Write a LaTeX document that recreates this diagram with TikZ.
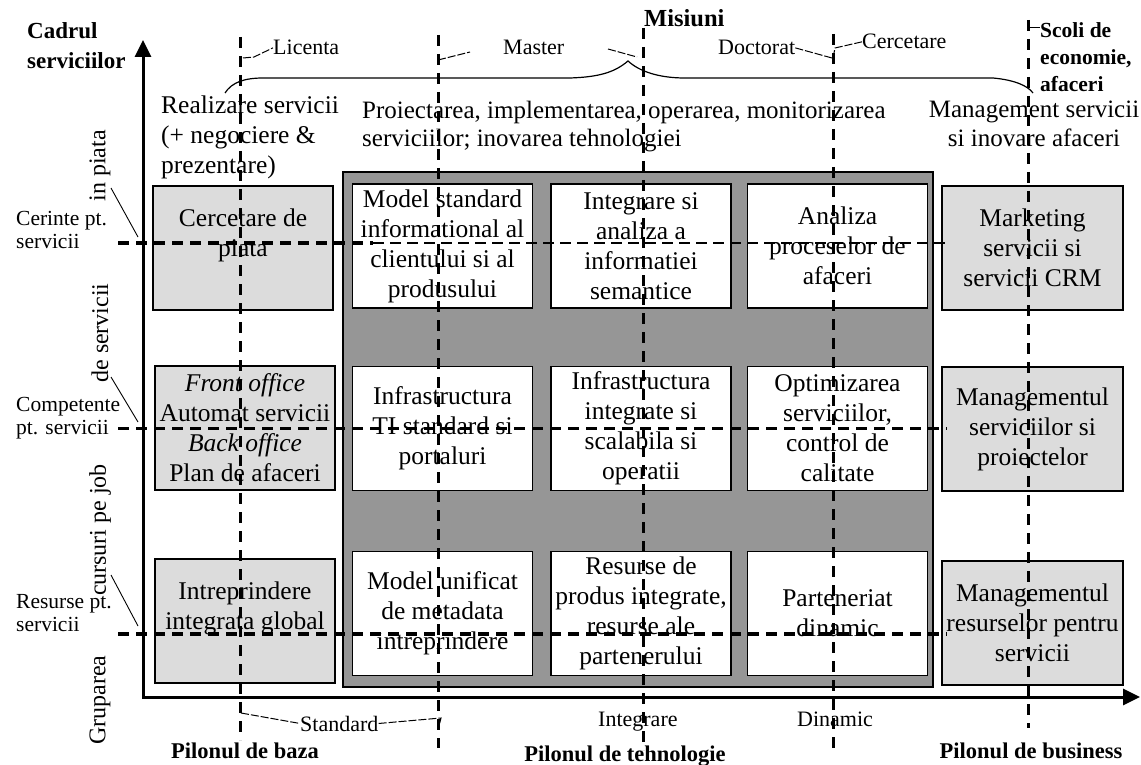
\documentclass[tikz,border=0pt]{standalone}
\usepackage{fontspec}
\setmainfont{Liberation Serif}
\usetikzlibrary{arrows.meta}
\definecolor{lgray}{HTML}{DCDCDC}
\definecolor{dgray}{HTML}{969696}
\tikzset{
  cell/.style={draw, line width=1.3pt, inner sep=0pt, minimum width=180pt, minimum height=124pt,
    font=\fontsize{25.5}{30}\selectfont, align=center},
  wcell/.style={cell, fill=white},
  gcell/.style={cell, fill=lgray},
  toptext/.style={font=\fontsize{25.5}{30}\selectfont, inner sep=0pt},
  lab/.style={font=\fontsize{22}{24}\selectfont, inner sep=0pt},
  sidelab/.style={font=\fontsize{21.5}{23}\selectfont, inner sep=0pt, align=left, anchor=north west},
  pillar/.style={font=\fontsize{22.5}{24}\bfseries\selectfont, inner sep=0pt},
  rot/.style={font=\fontsize{24}{26}\selectfont, inner sep=0pt, rotate=90},
  conn/.style={line width=1pt, dash pattern=on 8pt off 2pt},
  tick/.style={line width=0.9pt},
  axisline/.style={line width=3pt, line join=miter},
  vdash/.style={line width=3pt, dash pattern=on 11pt off 8pt},
  hthick/.style={line width=3.5pt, dash pattern=on 11pt off 7pt},
  hthin/.style={line width=1.5pt, dash pattern=on 11pt off 6pt},
}
\begin{document}
\begin{tikzpicture}[x=1pt,y=-1pt]
\useasboundingbox (0,0) rectangle (1141,765);

% big grey panel
\node[draw, line width=1.3pt, fill=dgray, minimum width=590pt, minimum height=515pt, inner sep=0pt] (panel) at (638,429.5) {};

% white cells
\node[wcell] (m11) at (442.5,246) {Model standard\\informational al\\clientului si al\\produsului};
\node[wcell] (m12) at (641,246) {Integrare si\\analiza a\\informatiei\\semantice};
\node[wcell] (m13) at (837.5,246) {Analiza\\proceselor de\\afaceri};
\node[wcell] (m21) at (442.5,428.5) {Infrastructura\\TI standard si\\portaluri};
\node[wcell] (m22) at (641,428.5) {Infrastructura\\integrate si\\scalabila si\\operatii};
\node[wcell] (m23) at (837.5,428.5) {Optimizarea\\serviciilor,\\control de\\calitate};
\node[wcell] (m31) at (442.5,613.5) {Model unificat\\de metadata\\intreprindere};
\node[wcell] (m32) at (641,613.5) {Resurse de\\produs integrate,\\resurse ale\\partenerului};
\node[wcell] (m33) at (837.5,613.5) {Parteneriat\\dinamic};

% left grey cells
\node[gcell] (l1) at (243,248) {Cercetare de\\piata\\\mbox{}};
\node[gcell] (l2) at (245,428) {\textit{Front office}\\Automat servicii\\\textit{Back office}\\Plan de afaceri};
\node[gcell] (l3) at (245,621) {Intreprindere\\integrata global\\\mbox{}};

% right grey cells
\node[gcell, minimum width=181pt] (r1) at (1032.5,248) {Marketing\\servicii si\\servicii CRM};
\node[gcell, minimum width=181pt] (r2) at (1032.5,429) {Managementul\\serviciilor si\\proiectelor};
\node[gcell, minimum width=181pt] (r3) at (1032.5,623) {Managementul\\resurselor pentru\\servicii};

% top texts
\node[toptext, align=left, anchor=north west] (real) at (161,96) {Realizare servicii\\(+ negociere \&\\prezentare)};
\node[toptext, align=left, anchor=north west, font=\fontsize{25}{28}\selectfont] (proi) at (362,101) {Proiectarea, implementarea, operarea, monitorizarea\\serviciilor; inovarea tehnologiei};
\node[toptext, align=center, anchor=north, font=\fontsize{25}{29}\selectfont] (mgmt) at (1034,101) {Management servicii\\si inovare afaceri};

% titles
\node[font=\fontsize{23}{30}\bfseries\selectfont, inner sep=0pt, align=left, anchor=north west] (cadrul) at (27,22) {Cadrul\\serviciilor};
\node[font=\fontsize{24.5}{26}\bfseries\selectfont, inner sep=0pt, anchor=base west] (misiuni) at (644,27) {Misiuni};
\node[font=\fontsize{21.5}{27}\bfseries\selectfont, inner sep=0pt, align=left, anchor=north west] (scoli) at (1040,22) {Scoli de\\economie,\\afaceri};

% small top labels
\node[lab, anchor=base west] (lic) at (273,55) {Licenta};
\node[lab, anchor=base west] (mst) at (503,55) {Master};
\node[lab, anchor=base west] (doc) at (718,55) {Doctorat};
\node[lab, anchor=base west] (cerc) at (862,49) {Cercetare};

% bottom labels
\node[lab, anchor=base west] (std) at (300,731) {Standard};
\node[lab, anchor=base west] (intg) at (598,726) {Integrare};
\node[lab, anchor=base west] (din) at (797,726) {Dinamic};
\node[pillar, anchor=base] (pb) at (245,758) {Pilonul de baza};
\node[pillar, anchor=base] (pt) at (625,761) {Pilonul de tehnologie};
\node[pillar, anchor=base] (pbus) at (1031,758) {Pilonul de business};

% left side labels
\node[sidelab] (cer) at (16,211) {Cerinte pt.\\servicii};
\node[sidelab] (comp) at (16,397) {Competente\\pt. servicii};
\node[sidelab] (res) at (16,594) {Resurse pt.\\servicii};

% rotated labels
\node[rot] (g1) at (100,700) {Gruparea};
\node[rot] (g2) at (100,530) {cursuri pe job};
\node[rot] (g3) at (100,333) {de servicii};
\node[rot] (g4) at (100,166) {in piata};

% coordinates for connectors
\coordinate (O) at (143,697);
\coordinate (Ytop) at (143,40);
\coordinate (Xend) at (1140,697);
\coordinate (licA) at (243,58);
\coordinate (licB) at (254,57);
\coordinate (mstA) at (438,60);
\coordinate (mstB) at (470,52);
\coordinate (mstC) at (608,49);
\coordinate (mstD) at (637,57);
\coordinate (docA) at (832,58);
\coordinate (cerA) at (833,58);
\coordinate (cerB) at (835,48);
\coordinate (scA) at (1028,27);
\coordinate (scB) at (1040,27);
\coordinate (stA) at (241,713);
\coordinate (stB) at (441,718);
\coordinate (stC) at (439,726);
\coordinate (pA) at (111,188);
\coordinate (pB) at (138,237);
\coordinate (sA) at (111,377);
\coordinate (sB) at (138,422);
\coordinate (cA) at (111,575);
\coordinate (cB) at (138,626);

% axes
\draw[axisline, {Triangle[length=17pt,width=16pt]}-{Triangle[length=17pt,width=16pt]}] (Ytop) -- (O) -- (Xend);

% brace
\draw[line width=1.2pt] (225,93) .. controls (232,82) and (245,78) .. (263,78) -- (570,78)
  .. controls (600,77) and (615,72) .. (628,61) .. controls (640,72) and (660,78) .. (685,78)
  -- (993,78) .. controls (1015,80) and (1028,86) .. (1033,93);

% label connectors
\draw[conn] (licA) -- (licB) -- (lic.west);
\draw[conn] (mstA) -- (mstB);
\draw[conn] (mstC) -- (mstD);
\draw[conn] (doc.east) -- (docA);
\draw[conn] (cerA) -- (cerB) -- (cerc.west);
\draw[tick] (scA) -- (scB);
\draw[conn] (stA) -- (std.west);
\draw[conn] (std.east) -- (stB) -- (stC);
\draw[tick] (pA) -- (pB);
\draw[tick] (sA) -- (sB);
\draw[tick] (cA) -- (cB);

% vertical dashed lines
\draw[vdash] (240,37) -- (240,740);
\draw[vdash] (438,35) -- (438,748);
\draw[vdash] (643,28) -- (643,750);
\draw[vdash] (833,34) -- (833,754);
\draw[vdash] (1028,20) -- (1028,728);

% horizontal dashed lines
\draw[hthick] (118,243) -- (373,243);
\draw[hthin] (373,243) -- (947,243);
\draw[hthick, line width=3pt] (118,428) -- (947,428);
\draw[hthick, line width=4pt] (118,634) -- (947,634);
\end{tikzpicture}
\end{document}
